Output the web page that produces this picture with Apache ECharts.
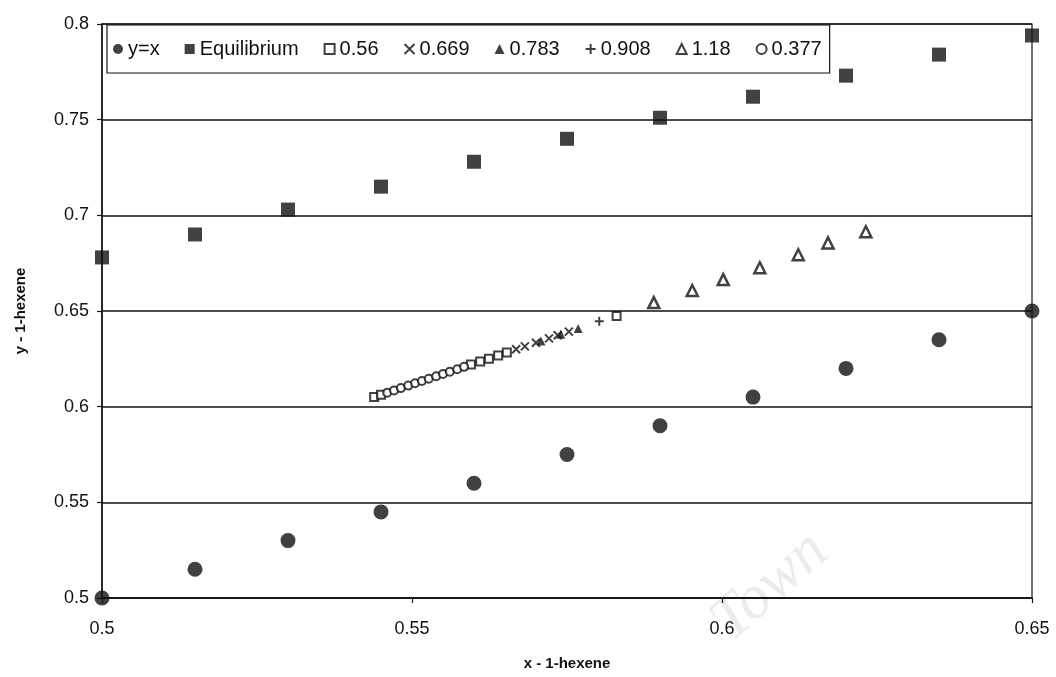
<!DOCTYPE html>
<html>
<head>
<meta charset="utf-8">
<script src="https://cdn.jsdelivr.net/npm/echarts@6/dist/echarts.min.js"></script>
<style>
  html, body { margin: 0; padding: 0; background: #fff; }
  #chart { width: 1056px; height: 677px; }
</style>
</head>
<body>
<div id="chart"></div>
<script>
// Axis ticks
const xTicks = [0.5, 0.55, 0.6, 0.65];
const yTicks = [0.5, 0.55, 0.6, 0.65, 0.7, 0.75, 0.8];

// Liquid mole fraction grid shared by the y=x and equilibrium curves
const xGrid = [0.5, 0.515, 0.53, 0.545, 0.56, 0.575, 0.59, 0.605, 0.62, 0.635, 0.65];
const yDiagonal = [0.5, 0.515, 0.53, 0.545, 0.56, 0.575, 0.59, 0.605, 0.62, 0.635, 0.65];
const yEquilibrium = [0.678, 0.690, 0.703, 0.715, 0.728, 0.740, 0.751, 0.762, 0.773, 0.784, 0.794];

// Measured (x, y) pairs for each run
const run056 = [[0.5439, 0.6050], [0.5450, 0.6062], [0.5595, 0.6220], [0.5610, 0.6236],
                [0.5624, 0.6251], [0.5639, 0.6267], [0.5653, 0.6283], [0.5830, 0.6474]];
const run0669 = [[0.5668, 0.6300], [0.5682, 0.6315], [0.5700, 0.6334], [0.5721, 0.6357],
                 [0.5735, 0.6373], [0.5753, 0.6392]];
const run0783 = [[0.5708, 0.6343], [0.5740, 0.6378], [0.5768, 0.6409]];
const run0908 = [[0.5802, 0.6446]];
const run118 = [[0.5890, 0.6544], [0.5952, 0.6607], [0.6002, 0.6664], [0.6061, 0.6726],
                [0.6123, 0.6794], [0.6171, 0.6856], [0.6232, 0.6914]];
const run0377 = [[0.5460, 0.6073], [0.5471, 0.6085], [0.5482, 0.6097], [0.5494, 0.6110],
                 [0.5505, 0.6122], [0.5516, 0.6134], [0.5527, 0.6146], [0.5539, 0.6159],
                 [0.5550, 0.6171], [0.5561, 0.6183], [0.5573, 0.6196], [0.5584, 0.6208]];

const ink = '#111';
const font = '"Liberation Sans", Arial, sans-serif';

function pairs(xs, ys) { return xs.map((x, i) => [x, ys[i]]); }

const chart = echarts.init(document.getElementById('chart'), null, { renderer: 'canvas' });

const crossPath = 'path://M0,0L10,10M10,0L0,10';
const plusPath = 'path://M5,0L5,10M0,5L10,5';

chart.setOption({
  animation: false,
  backgroundColor: '#fff',
  grid: {
    left: 102, right: 24, top: 24, bottom: 79,
    show: true, borderColor: ink, borderWidth: 1.2, backgroundColor: 'transparent'
  },
  legend: {
    left: 107, top: 25,
    orient: 'horizontal',
    padding: [14, 8, 14, 6],
    backgroundColor: '#fff',
    borderColor: ink, borderWidth: 1.2,
    itemGap: 25, itemWidth: 10, itemHeight: 10,
    textStyle: { fontFamily: font, fontSize: 20, color: ink },
    data: ['y=x', 'Equilibrium', '0.56', '0.669', '0.783', '0.908', '1.18', '0.377']
  },
  xAxis: {
    type: 'value',
    min: xTicks[0], max: xTicks[xTicks.length - 1], interval: 0.05,
    axisLine: { show: true, lineStyle: { color: ink, width: 1.5 } },
    axisTick: { show: true, length: 5, lineStyle: { color: ink, width: 1.2 } },
    splitLine: { show: false },
    axisLabel: { fontFamily: font, fontSize: 18, color: ink, margin: 22 },
    name: 'x - 1-hexene',
    nameLocation: 'middle', nameGap: 58,
    nameTextStyle: { fontFamily: font, fontSize: 15, fontWeight: 'bold', color: ink }
  },
  yAxis: {
    type: 'value',
    min: yTicks[0], max: yTicks[yTicks.length - 1], interval: 0.05,
    axisLine: { show: true, lineStyle: { color: ink, width: 1.5 } },
    axisTick: { show: true, length: 5, lineStyle: { color: ink, width: 1.2 } },
    splitLine: { show: true, lineStyle: { color: ink, width: 1.5 } },
    axisLabel: { fontFamily: font, fontSize: 18, color: ink, margin: 13 },
    name: 'y - 1-hexene',
    nameLocation: 'middle', nameGap: 74,
    nameTextStyle: { fontFamily: font, fontSize: 15, fontWeight: 'bold', color: ink }
  },
  graphic: [{
    type: 'text',
    left: 700, top: 520,
    rotation: 0.72,
    silent: true,
    z: -1,
    style: { text: 'Town', font: 'italic 62px "Liberation Serif", serif', fill: '#ececec' }
  }],
  series: [
    {
      name: 'y=x', type: 'scatter', symbol: 'circle', symbolSize: 15,
      itemStyle: { color: ink }, data: pairs(xGrid, yDiagonal), z: 3
    },
    {
      name: 'Equilibrium', type: 'scatter', symbol: 'rect', symbolSize: 14,
      itemStyle: { color: ink }, data: pairs(xGrid, yEquilibrium), z: 3
    },
    {
      name: '0.56', type: 'scatter', symbol: 'rect', symbolSize: 8,
      itemStyle: { color: '#fff', borderColor: ink, borderWidth: 2 }, data: run056
    },
    {
      name: '0.669', type: 'scatter', symbol: crossPath, symbolSize: 8,
      itemStyle: { color: ink, borderColor: ink, borderWidth: 2 }, data: run0669
    },
    {
      name: '0.783', type: 'scatter', symbol: 'triangle', symbolSize: 9,
      itemStyle: { color: ink }, data: run0783
    },
    {
      name: '0.908', type: 'scatter', symbol: plusPath, symbolSize: 9,
      itemStyle: { color: ink, borderColor: ink, borderWidth: 2 }, data: run0908
    },
    {
      name: '1.18', type: 'scatter', symbol: 'triangle', symbolSize: 11,
      itemStyle: { color: '#fff', borderColor: ink, borderWidth: 2.5 }, data: run118
    },
    {
      name: '0.377', type: 'scatter', symbol: 'circle', symbolSize: 8,
      itemStyle: { color: '#fff', borderColor: ink, borderWidth: 2 }, data: run0377
    }
  ]
});
</script>
</body>
</html>
